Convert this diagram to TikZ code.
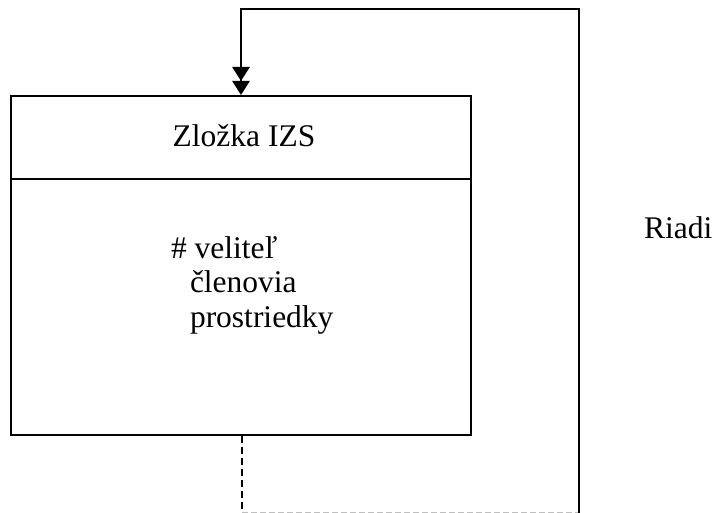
\documentclass[tikz,border=0pt]{standalone}
\usepackage{fontspec}
\setmainfont{Liberation Serif}
\usetikzlibrary{arrows.meta}
\begin{document}
\begin{tikzpicture}[x=1pt,y=-1pt, line width=2pt, line join=miter,
  lbl/.style={font=\fontsize{31.5}{34.5}\selectfont, inner sep=0pt},
  boxst/.style={draw, rectangle, minimum width=460pt, minimum height=339pt, inner sep=0pt},
  dashline/.style={line width=2pt, dash pattern=on 7pt off 4pt},
  faintdash/.style={line width=1pt, draw=black!25, dash pattern=on 6pt off 3pt},
  feedarrow/.style={line width=2.8pt, line cap=rect, -{Triangle[length=14pt,width=17pt]Triangle[length=14pt,width=17pt]}}]
\useasboundingbox (0,0) rectangle (714,513);
\node[boxst] (box) at (241,265.5) {};
\coordinate (dv) at (0,179);
\draw (box.west |- dv) -- (box.east |- dv);
\node[lbl, anchor=base] (title) at (244,147) {Zložka IZS};
\node[lbl, anchor=base west] (l1) at (170,258) {\# veliteľ};
\node[lbl, anchor=base west] (l2) at (189,292.5) {členovia};
\node[lbl, anchor=base west] (l3) at (189,327) {prostriedky};
\node[lbl, anchor=base west] (riadi) at (643,238) {Riadi};
\coordinate (bl) at (242,512);
\coordinate (br) at (579,512);
\coordinate (brb) at (579,514);
\coordinate (tr) at (579,9);
\coordinate (tl) at (241,9);
\draw[dashline] (box.south -| bl) -- (bl);
\draw[faintdash] (bl) -- (br);
\draw (brb) -- (tr) -- (tl);
\draw[feedarrow] (tl) -- (box.north -| tl);
\end{tikzpicture}
\end{document}
